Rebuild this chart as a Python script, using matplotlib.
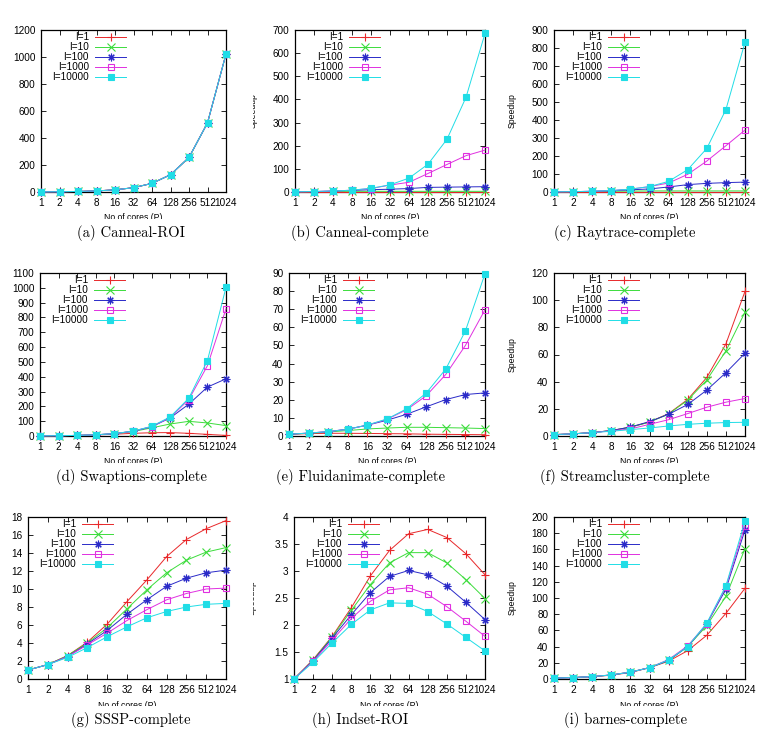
import matplotlib
matplotlib.use("Agg")
import matplotlib.pyplot as plt
from matplotlib.transforms import Bbox

# x categories (number of cores)
cores = ["1", "2", "4", "8", "16", "32", "64", "128", "256", "512", "1024"]
series_labels = ["I=1", "I=10", "I=100", "I=1000", "I=10000"]

# (a) Canneal-ROI
canneal_roi = [
    [1, 2, 4, 8, 16, 32, 64, 128, 256, 512, 1022],
    [1, 2, 4, 8, 16, 32, 64, 128, 256, 512, 1022],
    [1, 2, 4, 8, 16, 32, 64, 128, 256, 512, 1022],
    [1, 2, 4, 8, 16, 32, 64, 128, 256, 512, 1022],
    [1, 2, 4, 8, 16, 32, 64, 128, 256, 512, 1022],
]
# (b) Canneal-complete
canneal_complete = [
    [1, 1, 1, 1, 1, 1, 1, 1, 1, 1, 1],
    [1, 2, 3, 3, 3, 3, 3, 3, 3, 3, 3],
    [1, 2, 4, 7, 10, 12, 15, 20, 21, 22, 23],
    [1, 2, 4, 8, 15, 30, 42, 80, 119, 157, 181],
    [1, 2, 4, 8, 16, 31, 60, 120, 228, 409, 685],
]
# (c) Raytrace-complete
raytrace_complete = [
    [1, 1, 1, 1, 1, 1, 1, 1, 1, 1, 1],
    [1, 2, 3, 4, 5, 6, 6, 6, 6, 6, 6],
    [1, 2, 4, 7, 12, 17, 28, 41, 48, 52, 55],
    [1, 2, 4, 8, 16, 30, 50, 98, 172, 257, 344],
    [1, 2, 4, 8, 16, 30, 59, 124, 242, 458, 832],
]
# (d) Swaptions-complete
swaptions_complete = [
    [1, 2, 4, 7, 12, 18, 22, 23, 18, 11, 4],
    [1, 2, 4, 8, 16, 30, 55, 81, 99, 88, 70],
    [1, 2, 4, 8, 16, 32, 62, 122, 215, 330, 386],
    [1, 2, 4, 8, 16, 32, 64, 125, 246, 474, 858],
    [1, 2, 4, 8, 16, 33, 65, 129, 255, 508, 1003],
]
# (e) Fluidanimate-complete
fluidanimate_complete = [
    [1, 1.3, 1.5, 1.5, 1.4, 1.3, 1.2, 1.0, 0.9, 0.8, 0.7],
    [1, 1.5, 2.2, 3.0, 3.9, 4.4, 4.8, 4.8, 4.6, 4.4, 4.1],
    [1, 1.6, 2.4, 3.8, 6.0, 8.7, 12.0, 16.1, 20.1, 22.9, 23.8],
    [1, 1.6, 2.4, 3.7, 6.0, 9.2, 14.5, 22.2, 34.0, 50.0, 69.7],
    [1, 1.6, 2.4, 3.7, 6.1, 9.4, 15.0, 23.7, 37.0, 58.0, 89.6],
]
# (f) Streamcluster-complete
streamcluster_complete = [
    [1, 1.6, 2.5, 4.0, 6.5, 10.3, 16.5, 26.9, 43.1, 67.8, 106.5],
    [1, 1.6, 2.5, 4.0, 6.5, 10.2, 16.2, 26.4, 41.2, 62.6, 91.2],
    [1, 1.6, 2.5, 4.0, 6.6, 10.6, 16.0, 23.2, 33.8, 46.6, 60.9],
    [1, 1.6, 2.5, 3.8, 5.2, 8.6, 12.0, 16.5, 21.2, 24.9, 27.6],
    [1, 1.6, 2.5, 3.5, 4.7, 5.9, 7.4, 8.6, 9.4, 9.9, 10.1],
]
# (g) SSSP-complete
sssp_complete = [
    [1, 1.6, 2.6, 4.1, 6.1, 8.6, 11.0, 13.6, 15.5, 16.7, 17.6],
    [1, 1.6, 2.6, 4.0, 5.7, 7.8, 9.9, 11.8, 13.2, 14.1, 14.6],
    [1, 1.6, 2.5, 3.9, 5.4, 7.2, 8.8, 10.3, 11.2, 11.8, 12.1],
    [1, 1.6, 2.5, 3.8, 5.1, 6.5, 7.7, 8.8, 9.5, 10.0, 10.1],
    [1, 1.6, 2.4, 3.5, 4.7, 5.8, 6.8, 7.5, 8.0, 8.3, 8.4],
]
# (h) Indset-ROI
indset_roi = [
    [1, 1.36, 1.79, 2.32, 2.91, 3.38, 3.69, 3.77, 3.62, 3.32, 2.93],
    [1, 1.35, 1.78, 2.27, 2.75, 3.15, 3.34, 3.34, 3.15, 2.84, 2.49],
    [1, 1.34, 1.76, 2.19, 2.60, 2.90, 3.01, 2.93, 2.72, 2.42, 2.10],
    [1, 1.33, 1.72, 2.12, 2.44, 2.65, 2.69, 2.57, 2.34, 2.07, 1.79],
    [1, 1.31, 1.67, 2.01, 2.28, 2.41, 2.40, 2.25, 2.02, 1.77, 1.52],
]
# (i) barnes-complete
barnes_complete = [
    [1, 1.7, 2.8, 4.7, 8, 14, 22, 35, 54, 81, 112],
    [1, 1.8, 3, 5, 8.5, 14, 23, 40, 66, 102, 161],
    [1, 1.8, 3, 5, 8.5, 14, 23, 40, 68, 111, 184],
    [1, 1.8, 3, 5, 8.5, 14, 24, 41, 68, 114, 189],
    [1, 1.8, 3, 5, 8.5, 14, 23.5, 40, 69, 115, 195],
]

panels = [
    ("(a) Canneal-ROI", canneal_roi, 1200, 200),
    ("(b) Canneal-complete", canneal_complete, 700, 100),
    ("(c) Raytrace-complete", raytrace_complete, 900, 100),
    ("(d) Swaptions-complete", swaptions_complete, 1100, 100),
    ("(e) Fluidanimate-complete", fluidanimate_complete, 90, 10),
    ("(f) Streamcluster-complete", streamcluster_complete, 120, 20),
    ("(g) SSSP-complete", sssp_complete, 18, 2),
    ("(h) Indset-ROI", indset_roi, 4, 0.5),
    ("(i) barnes-complete", barnes_complete, 200, 20),
]

colors = ["#e8282a", "#3cdc3c", "#2a2ac8", "#e030e0", "#20dde6"]
markers = ["+", "x", (8, 2, 0), "s", "s"]
fills = ["full", "full", "full", "none", "full"]
msizes = [6, 5.5, 5.5, 5, 4.6]

W, H = 758, 730
# axes boxes in pixels: (left, top, right, bottom)
boxes = [
    (41, 30, 226, 192), (295, 30, 485, 192), (554, 30, 745, 192),
    (40, 273, 226, 436), (289, 273, 485, 436), (554, 273, 745, 436),
    (28, 517, 226, 679), (294, 517, 485, 679), (554, 517, 745, 679),
]
col_edges = [(0, 253), (253, 506), (506, 758)]
row_clip = [219, 463, 706]
caption_y = [233, 477, 720]
caption_x = [131, 360, 625]

plt.rcParams["font.family"] = ["Liberation Sans", "DejaVu Sans"]

fig = plt.figure(figsize=(W / 100, H / 100), dpi=100)
fig.patch.set_facecolor("white")


def px_clip(x0, y0, x1, y1):
    # clip rectangle given in figure pixels (top-left origin)
    return Bbox.from_extents(x0, H - y1, x1, H - y0)


for k, (title, data, ymax, ystep) in enumerate(panels):
    r, c = divmod(k, 3)
    l, t, rt, b = boxes[k]
    ax = fig.add_axes([l / W, 1 - b / H, (rt - l) / W, (b - t) / H])
    xs = list(range(len(cores)))
    ymin = 1 if ymax == 4 else 0

    for i, ys in enumerate(data):
        ax.plot(xs, ys, color=colors[i], lw=0.7, marker=markers[i],
                ms=msizes[i], mew=0.8, fillstyle=fills[i],
                clip_on=False, zorder=3 + i)

    ax.set_xlim(0, len(cores) - 1)
    ax.set_ylim(ymin, ymax)
    ax.set_xticks(xs)
    ax.set_xticklabels(cores)
    n = int(round((ymax - ymin) / ystep))
    yt = [ymin + j * ystep for j in range(n + 1)]
    ax.set_yticks(yt)
    ax.set_yticklabels([("%g" % v) for v in yt])
    ax.tick_params(direction="in", length=3.5, width=0.6, labelsize=7.2,
                   top=True, right=True, pad=4)
    for sp in ax.spines.values():
        sp.set_linewidth(0.9)

    # gnuplot-style legend: label right-aligned, then sample line with marker
    aw = rt - l
    ah = b - t
    for i, lab in enumerate(series_labels):
        yy = 1 - (7 + 10 * i) / ah
        ax.text(48 / aw, yy, lab, transform=ax.transAxes, ha="right",
                va="center", fontsize=7.2)
        ax.plot([54 / aw, 85 / aw], [yy, yy], transform=ax.transAxes,
                color=colors[i], lw=0.7, zorder=10)
        ax.plot([69.5 / aw], [yy], transform=ax.transAxes, color=colors[i],
                marker=markers[i], ms=msizes[i], mew=0.8,
                fillstyle=fills[i], zorder=10, clip_on=False)

    x0, x1 = col_edges[c]
    panel_top = 0 if r == 0 else row_clip[r - 1] + 20
    clip = px_clip(x0, panel_top, x1, row_clip[r])

    # x label (cut at the bottom of the sub-figure, as in the original)
    xl = fig.text((l + rt) / 2 / W, 1 - (b + 26) / H, "No of cores (P)",
                  ha="center", va="center", fontsize=6.2)
    xl.set_clip_box(clip)
    xl.set_clip_on(True)

    # y label (cut at the left edge of the sub-figure)
    if c > 0:
        yl = fig.text((l - 42) / W, 1 - (t + b) / 2 / H, "Speedup",
                      rotation=90, ha="center", va="center", fontsize=6.2)
        yl.set_clip_box(clip)
        yl.set_clip_on(True)

    fig.text(caption_x[c] / W, 1 - caption_y[r] / H, title, ha="center",
             va="center", fontsize=10.5, family=["cmr10", "DejaVu Serif"])

fig.savefig("out.png", dpi=100)
